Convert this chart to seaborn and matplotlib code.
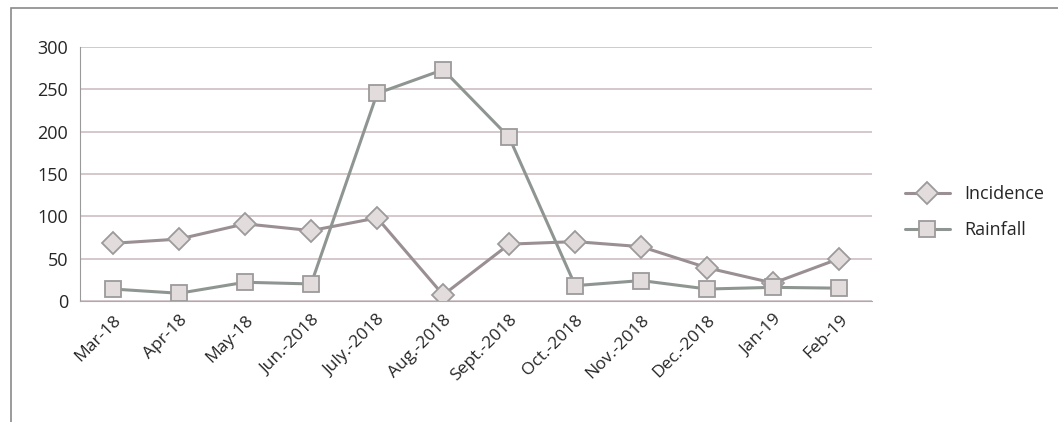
import matplotlib.pyplot as plt
import seaborn as sns
import pandas as pd
from matplotlib.patches import Rectangle

months = ["Mar-18", "Apr-18", "May-18", "Jun.-2018", "July.-2018", "Aug.-2018",
          "Sept.-2018", "Oct.-2018", "Nov.-2018", "Dec.-2018", "Jan-19", "Feb-19"]
incidence = [68, 73, 91, 83, 98, 7, 67, 70, 64, 39, 21, 50]
rainfall = [14, 9, 22, 20, 245, 273, 193, 18, 24, 14, 16, 15]

df = pd.DataFrame({"month": months * 2,
                   "value": incidence + rainfall,
                   "series": ["Incidence"] * 12 + ["Rainfall"] * 12})
df["pos"] = list(range(12)) * 2

sns.set_style("white")
plt.rcParams["font.family"] = ["Open Sans", "DejaVu Sans"]

fig = plt.figure(figsize=(10.58, 4.22), dpi=100)
ax = fig.add_axes([0.0756, 0.287, 0.749, 0.602])

palette = {"Incidence": "#9a8f93", "Rainfall": "#8f9692"}
markers = {"Incidence": "D", "Rainfall": "s"}
sns.lineplot(data=df, x="pos", y="value", hue="series", style="series",
             palette=palette, markers=markers, dashes=False, linewidth=2.2,
             markersize=11, markerfacecolor="#e2dcdc", markeredgecolor="#9c9a9a",
             markeredgewidth=1.3, ax=ax)

ax.set_xlim(-0.5, 11.5)
ax.set_ylim(0, 300)
ax.set_yticks(range(0, 301, 50))
ax.set_xticks(range(12))
ax.set_xticklabels(months, rotation=45, ha="right", rotation_mode="anchor", fontsize=12.5)
ax.tick_params(axis="y", labelsize=13, length=5, color="#999999")
ax.tick_params(axis="x", length=0, pad=8)
ax.set_xlabel("")
ax.set_ylabel("")
ax.grid(axis="y", color="#c9b9bd", linewidth=1.1)
ax.set_axisbelow(True)
for s in ["top", "right"]:
    ax.spines[s].set_visible(False)
ax.spines["left"].set_color("#9a9a9a")
ax.spines["bottom"].set_color("#b0a8aa")
# minor ticks between categories, like the Excel category axis
ax.set_xticks([i + 0.5 for i in range(-1, 12)], minor=True)
ax.tick_params(axis="x", which="minor", length=5, color="#aaaaaa", direction="out")

leg = ax.legend(loc="upper left", bbox_to_anchor=(1.02, 0.52), frameon=False,
                fontsize=13, handlelength=2.5, labelspacing=1.0)
leg.set_title(None)

fig.patches.append(Rectangle((0.01, -0.02), 1.0, 1.0, transform=fig.transFigure,
                             fill=False, edgecolor="#8a8a8a", linewidth=1.2))

fig.savefig("out.png", dpi=100)
